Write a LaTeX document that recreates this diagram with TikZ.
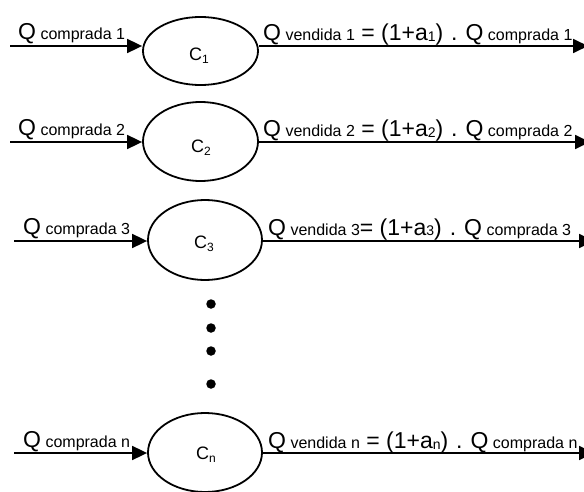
\documentclass[tikz,border=0pt]{standalone}
\usepackage{fontspec}
\setmainfont{Liberation Sans}
\usetikzlibrary{arrows.meta,shapes.geometric}

% small text set beside a large Q, and lowered indices
\newcommand\qsub[1]{{\fontsize{16}{18}\selectfont #1}}
\newcommand\asub[1]{\raisebox{-1pt}{\fontsize{14}{15}\selectfont #1}}
\newcommand\csub[1]{\raisebox{-3pt}{\fontsize{12}{13}\selectfont #1}}
\newcommand\gap{\hspace{8pt}}

\begin{document}
\begin{tikzpicture}[x=1pt,y=-1pt,
  flow/.style={line width=1.8pt,-{Triangle[length=15pt,width=14pt]}},
  ctr/.style={draw,line width=1.8pt,ellipse,inner sep=0pt},
  lbl/.style={anchor=base west,inner sep=0pt,font=\fontsize{23}{25}\selectfont},
  cname/.style={anchor=base west,inner sep=0pt,font=\fontsize{18}{20}\selectfont},
  bigdot/.style={circle,fill=black,inner sep=0pt,minimum size=9.5pt}
]
\useasboundingbox (0,0) rectangle (584,492);
\clip (0,0) rectangle (584,492);

% ---- company 1 ----
\node[ctr,minimum width=115pt,minimum height=68pt] (c1) at (200.5,51) {};
\node[cname] (n1) at (189,61) {C\csub{1}};
\coordinate (s1) at (10,46);
\coordinate (t1) at (588,46);
\draw[flow] (s1) -- (c1.west |- s1);
\draw[flow] (c1.east |- s1) -- (t1);
\node[lbl] (in1) at (18,40) {Q\qsub{ comprada 1}};
\node[lbl] (out1) at (263,41) {Q\qsub{ vendida 1} = (1+a\asub{1})\gap.\gap Q\qsub{ comprada 1}};

% ---- company 2 ----
\node[ctr,minimum width=115pt,minimum height=79pt] (c2) at (200.5,141.5) {};
\node[cname] (n2) at (191,153) {C\csub{2}};
\coordinate (s2) at (10,142);
\coordinate (t2) at (590,142);
\draw[flow] (s2) -- (c2.west |- s2);
\draw[flow] (c2.east |- s2) -- (t2);
\node[lbl] (in2) at (18,136) {Q\qsub{ comprada 2}};
\node[lbl] (out2) at (263,137) {Q\qsub{ vendida 2} = (1+a\asub{2})\gap.\gap Q\qsub{ comprada 2}};

% ---- company 3 ----
\node[ctr,minimum width=114pt,minimum height=80pt] (c3) at (205,240) {};
\node[cname] (n3) at (194,248) {C\csub{3}};
\coordinate (s3) at (14,241);
\coordinate (t3) at (594,241);
\draw[flow] (s3) -- (c3.west |- s3);
\draw[flow] (c3.east |- s3) -- (t3);
\node[lbl] (in3) at (23,234) {Q\qsub{ comprada 3}};
\node[lbl] (out3) at (268,235) {Q\qsub{ vendida 3}= (1+a\asub{3})\gap.\gap Q\qsub{ comprada 3}};

% ---- ellipsis ----
\node[bigdot] (d1) at (211,304) {};
\node[bigdot] (d2) at (211,328) {};
\node[bigdot] (d3) at (211,351) {};
\node[bigdot] (d4) at (211,384) {};

% ---- company n ----
\node[ctr,minimum width=114pt,minimum height=79pt] (c4) at (205,452.5) {};
\node[cname] (n4) at (196,459) {C\csub{n}};
\coordinate (s4) at (14,453);
\coordinate (t4) at (594,453);
\draw[flow] (s4) -- (c4.west |- s4);
\draw[flow] (c4.east |- s4) -- (t4);
\node[lbl] (in4) at (23,447) {Q\qsub{ comprada n}};
\node[lbl] (out4) at (268,448) {Q\qsub{ vendida n} = (1+a\asub{n})\gap.\gap Q\qsub{ comprada n}};
\end{tikzpicture}
\end{document}
